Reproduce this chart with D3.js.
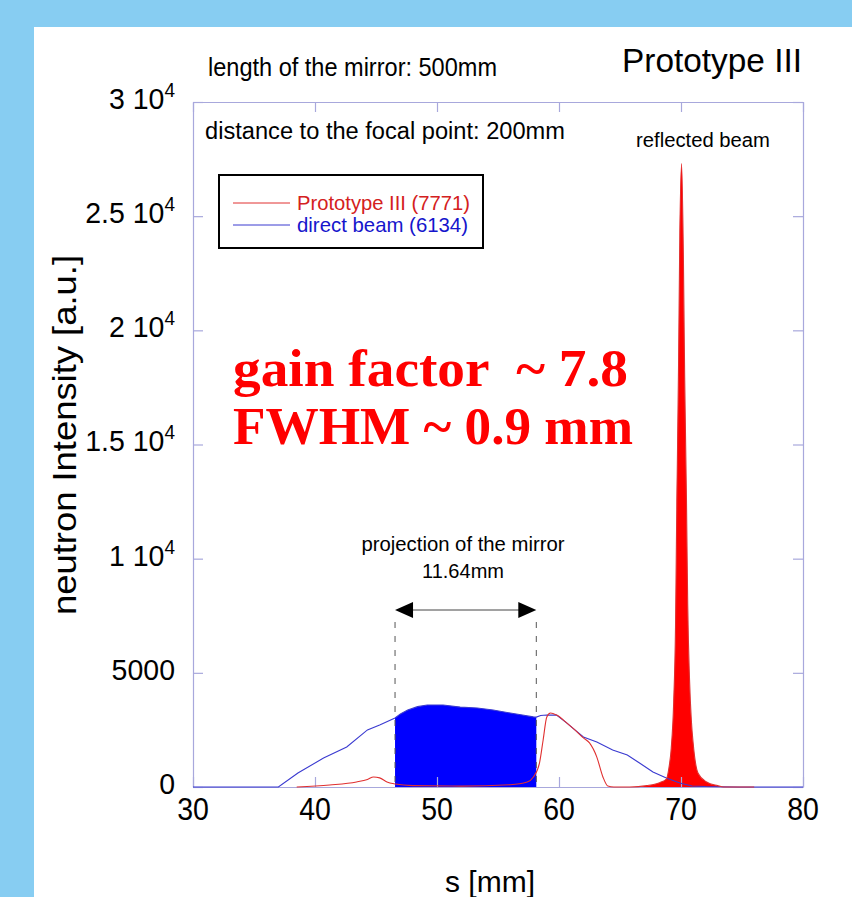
<!DOCTYPE html>
<html>
<head>
<meta charset="utf-8">
<script src="https://cdn.jsdelivr.net/npm/d3@7/dist/d3.min.js"></script>
<style>
  body { margin: 0; background: #87cdf2; }
  svg { display: block; }
</style>
</head>
<body>
<svg width="852" height="897"></svg>
<script>
// tick values / labels
const xTicks = [30, 40, 50, 60, 70, 80]
const yTicks = [0, 5000, 10000, 15000, 20000, 25000, 30000]
const yTickLabels = [["0", ""], ["5000", ""], ["1 10", "4"], ["1.5 10", "4"], ["2 10", "4"], ["2.5 10", "4"], ["3 10", "4"]]

// direct beam (6134)
const beamS = [30, 37.0, 38.6, 40.7, 42.6, 44.3, 45.3, 46.56, 47.0, 47.6, 48.4, 49.2, 50.5, 51.9, 53.3, 54.6, 56.0, 57.0, 57.9, 58.14, 58.5, 59.0, 59.8, 60.65, 61.3, 62.0, 63.1, 64.4, 65.6, 66.6, 67.7, 68.8, 69.9, 70.9, 72.0, 74.8, 80]
const beamI = [0, 0, 610, 1270, 1750, 2500, 2720, 3020, 3200, 3370, 3520, 3590, 3590, 3500, 3460, 3370, 3240, 3150, 3070, 3060, 3130, 3150, 3150, 2800, 2500, 2190, 1970, 1620, 1400, 1050, 660, 390, 175, 45, 20, 0, 0]

// Prototype III (7771)
const protoS = [38.5, 41.2, 43.4, 44.3, 44.8, 45.3, 45.9, 46.6, 48.0, 52.0, 56.0, 57.4, 57.9, 58.4, 58.7, 59.0, 59.3, 59.8, 60.65, 61.3, 62.0, 62.5, 63.1, 63.6, 64.0, 64.5, 65.8, 67.2, 68.3, 68.8, 69.0, 69.2, 69.4, 69.55, 69.65, 69.8, 69.9, 70.05, 70.2, 70.3, 70.45, 70.55, 70.7, 70.85, 71.0, 71.4, 72.1, 73.0, 73.5, 76.0]
const protoI = [0, 90, 220, 330, 440, 400, 220, 130, 60, 40, 100, 220, 440, 1050, 2060, 3070, 3240, 3150, 2800, 2500, 2150, 1930, 1310, 440, 45, 0, 0, 60, 200, 350, 800, 1700, 3700, 7000, 12000, 18500, 24000, 27300, 23000, 18000, 12500, 8000, 4700, 2900, 1900, 600, 220, 60, 0, 0]

const mirrorStart = 46.56
const mirrorEnd = 58.14
const peakFrom = 65.8

const beam = beamS.map((s, i) => ({s, v: beamI[i]}))
const proto = protoS.map((s, i) => ({s, v: protoI[i]}))

const svg = d3.select("svg")
const frameColor = "#a8a8dc"
const font = "Liberation Sans, Arial, sans-serif"

svg.append("rect").attr("x", 34).attr("y", 27).attr("width", 818).attr("height", 870).attr("fill", "#fff")

const x = d3.scaleLinear().domain([30, 80]).range([193, 803])
const y = d3.scaleLinear().domain([0, 30000]).range([787, 102])

// plain text helper, optional fitted width
function label(tx, ty, str, size, opts = {}) {
  const t = svg.append("text").attr("x", tx).attr("y", ty)
    .attr("font-family", opts.family || font).attr("font-size", size)
    .attr("text-anchor", opts.anchor || "start")
    .attr("fill", opts.fill || "#000")
    .style("white-space", "pre")
    .text(str)
  if (opts.width) t.attr("textLength", opts.width).attr("lengthAdjust", "spacingAndGlyphs")
  if (opts.weight) t.attr("font-weight", opts.weight)
  return t
}

// fills
const area = d3.area().x(d => x(d.s)).y0(y(0)).y1(d => y(d.v))
svg.append("path")
  .datum(beam.filter(d => d.s >= mirrorStart && d.s <= mirrorEnd))
  .attr("d", area)
  .attr("fill", "#0000ff")
svg.append("path")
  .datum(proto.filter(d => d.s >= peakFrom))
  .attr("d", area.curve(d3.curveMonotoneX))
  .attr("fill", "#ff0000")

// axes: inward ticks on all four sides
const axes = [
  [d3.axisBottom(x).tickValues(xTicks), "translate(0," + y(0) + ")"],
  [d3.axisTop(x).tickValues(xTicks), "translate(0," + y(30000) + ")"],
  [d3.axisLeft(y).tickValues(yTicks), "translate(" + x(30) + ",0)"],
  [d3.axisRight(y).tickValues(yTicks), "translate(" + x(80) + ",0)"]
]
axes.forEach(([ax, tr]) => {
  const g = svg.append("g").attr("transform", tr)
    .call(ax.tickSize(-10).tickSizeOuter(0).tickFormat(""))
  g.selectAll("path, line").attr("stroke", frameColor).attr("stroke-width", 1.2)
})

// lines
const line = d3.line().x(d => x(d.s)).y(d => y(d.v))
svg.append("path").datum(beam).attr("d", line)
  .attr("fill", "none").attr("stroke", "#3a3ad0").attr("stroke-width", 1.1)
svg.append("path").datum(proto).attr("d", line.curve(d3.curveMonotoneX))
  .attr("fill", "none").attr("stroke", "#e03030").attr("stroke-width", 1.1)

// tick labels
svg.append("g").selectAll("text").data(xTicks).join("text")
  .attr("x", d => x(d)).attr("y", 820)
  .attr("text-anchor", "middle")
  .attr("font-family", font).attr("font-size", 31)
  .attr("transform", d => `translate(${x(d)},0) scale(0.92,1) translate(${-x(d)},0)`)
  .text(d => d)

const yl = svg.append("g").selectAll("text").data(yTicks).join("text")
  .attr("x", 175).attr("y", d => y(d) + 7)
  .attr("text-anchor", "end")
  .attr("font-family", font).attr("font-size", 30)
  .attr("transform", "translate(175,0) scale(0.95,1) translate(-175,0)")
yl.append("tspan").text((d, i) => yTickLabels[i][0])
yl.append("tspan").attr("dy", -12).attr("font-size", 20).text((d, i) => yTickLabels[i][1])

// axis titles
svg.append("text")
  .attr("transform", "translate(76,435) rotate(-90)")
  .attr("text-anchor", "middle")
  .attr("font-family", font).attr("font-size", 34)
  .attr("textLength", 360).attr("lengthAdjust", "spacingAndGlyphs")
  .text("neutron Intensity [a.u.]")
label(490, 892, "s [mm]", 30, {anchor: "middle"})

// annotations
label(208, 76, "length of the mirror: 500mm", 25, {width: 289})
label(802, 72, "Prototype III", 34, {anchor: "end", width: 180})
label(205, 139, "distance to the focal point: 200mm", 23, {width: 360})
label(636, 147, "reflected beam", 20, {width: 134})

// legend
svg.append("rect").attr("x", 219).attr("y", 175).attr("width", 264).attr("height", 73)
  .attr("fill", "#fff").attr("stroke", "#000").attr("stroke-width", 2)
const legend = [["Prototype III (7771)", "#e03030", "#d42020", 173], ["direct beam (6134)", "#3a3ad0", "#1515cc", 171]]
legend.forEach(([name, lineColor, textColor, w], i) => {
  const ly = 203 + i * 22
  svg.append("line").attr("x1", 233).attr("x2", 290).attr("y1", ly).attr("y2", ly)
    .attr("stroke", lineColor).attr("stroke-width", 1)
  label(297, ly + 7, name, 21, {fill: textColor, width: w})
})

// gain text
const serif = "Liberation Serif, Times New Roman, serif"
label(233, 386, "gain factor  ~ 7.8", 53, {family: serif, weight: "bold", fill: "#ff0000", width: 395})
label(233, 444, "FWHM ~ 0.9 mm", 53, {family: serif, weight: "bold", fill: "#ff0000", width: 400})

// mirror projection
label(463, 551, "projection of the mirror", 20, {anchor: "middle", width: 203})
label(463, 578, "11.64mm", 20, {anchor: "middle", width: 82})

const ay = 610
svg.append("line").attr("x1", x(mirrorStart) + 15).attr("x2", x(mirrorEnd) - 15)
  .attr("y1", ay).attr("y2", ay).attr("stroke", "#444").attr("stroke-width", 1)
svg.append("path")
  .attr("d", `M${x(mirrorStart)},${ay} l18,-8 v16 z M${x(mirrorEnd)},${ay} l-18,-8 v16 z`)
  .attr("fill", "#000")
;[mirrorStart, mirrorEnd].forEach(s => {
  svg.append("line").attr("x1", x(s)).attr("x2", x(s)).attr("y1", 622).attr("y2", y(0))
    .attr("stroke", "#555").attr("stroke-width", 1).attr("stroke-dasharray", "6,8")
})
</script>
</body>
</html>
